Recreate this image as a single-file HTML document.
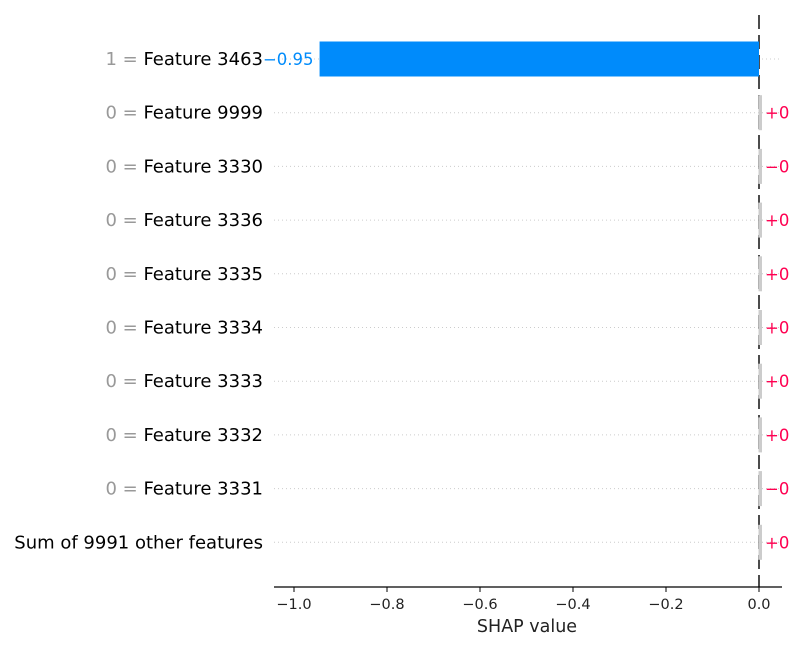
<!DOCTYPE html>
<html><head><meta charset="utf-8"><style>
body{margin:0;background:#fff}
text{font-family:"DejaVu Sans","Liberation Sans",sans-serif}
</style></head><body>
<svg width="800" height="650" xmlns="http://www.w3.org/2000/svg" id="chart"></svg>
<script>
const featureValues=["1","0","0","0","0","0","0","0","0",""];
const featureNames=["Feature 3463","Feature 9999","Feature 3330","Feature 3336","Feature 3335","Feature 3334","Feature 3333","Feature 3332","Feature 3331","Sum of 9991 other features"];
const shapValues=[-0.945,0.002,-0.002,0.002,0.002,0.002,0.002,0.002,-0.002,0.002];
const valueLabels=["\u22120.95","+0","\u22120","+0","+0","+0","+0","+0","\u22120","+0"];
const xTicks=[-1.0,-0.8,-0.6,-0.4,-0.2,0.0];
const xTickLabels=["\u22121.0","\u22120.8","\u22120.6","\u22120.4","\u22120.2","0.0"];

const NS="http://www.w3.org/2000/svg";
const svg=document.getElementById('chart');
const x=v=>759+v*465;
const y=i=>59+i*53.7;
function mk(t,a,p){const e=document.createElementNS(NS,t);for(const k in a)e.setAttribute(k,a[k]);(p||svg).appendChild(e);return e;}

featureNames.forEach((n,i)=>{
  const g=mk('line',{x1:274,x2:782,y1:y(i),y2:y(i),stroke:'#ccc','stroke-width':1,'stroke-dasharray':'1,3'});
  
  
});
const z=mk('line',{x1:x(0),x2:x(0),y1:15,y2:587,stroke:'#000','stroke-width':1.4,'stroke-dasharray':'14,6'});


shapValues.forEach((v,i)=>{
  const big=Math.abs(v)>0.05;
  const x0=Math.min(x(0),x(v)),w=Math.abs(x(v)-x(0));
  const r=mk('rect',{x:big?x0:x(0)-0.5,y:y(i)-17.5,width:big?w:3.5,height:35,fill:big?(v<0?'#008bfb':'#ff0051'):'#ccc'});
  
  
  const t=mk('text',{y:y(i)+6,'font-size':16.5,fill:big&&v<0?'#008bfb':'#ff0051'});
  if(big){t.setAttribute('x',x(v)-6);t.setAttribute('text-anchor','end');}
  else{t.setAttribute('x',x(0)+6);}
  t.textContent=valueLabels[i];
  
  
  const l=mk('text',{x:263,y:y(i)+6,'font-size':18,'text-anchor':'end',fill:'#000'});
  if(featureValues[i]!==""){
    const s=mk('tspan',{fill:'#999'},l);s.textContent=featureValues[i]+" = ";
    const s2=mk('tspan',{},l);s2.textContent=featureNames[i];
  } else l.textContent=featureNames[i];
  
  
});
const ax=mk('line',{x1:274,x2:782,y1:587,y2:587,stroke:'#000','stroke-width':1.2});


xTicks.forEach((v,i)=>{
  const tk=mk('line',{x1:x(v),x2:x(v),y1:587,y2:592,stroke:'#000'});
  
  
  const tl=mk('text',{x:x(v),y:609,'font-size':14.5,'text-anchor':'middle',fill:'#222'});
  tl.textContent=xTickLabels[i];
  
  
});
const tt=mk('text',{x:527,y:632,'font-size':17.5,'text-anchor':'middle',fill:'#222'});
tt.textContent="SHAP value";


</script>
</body></html>
